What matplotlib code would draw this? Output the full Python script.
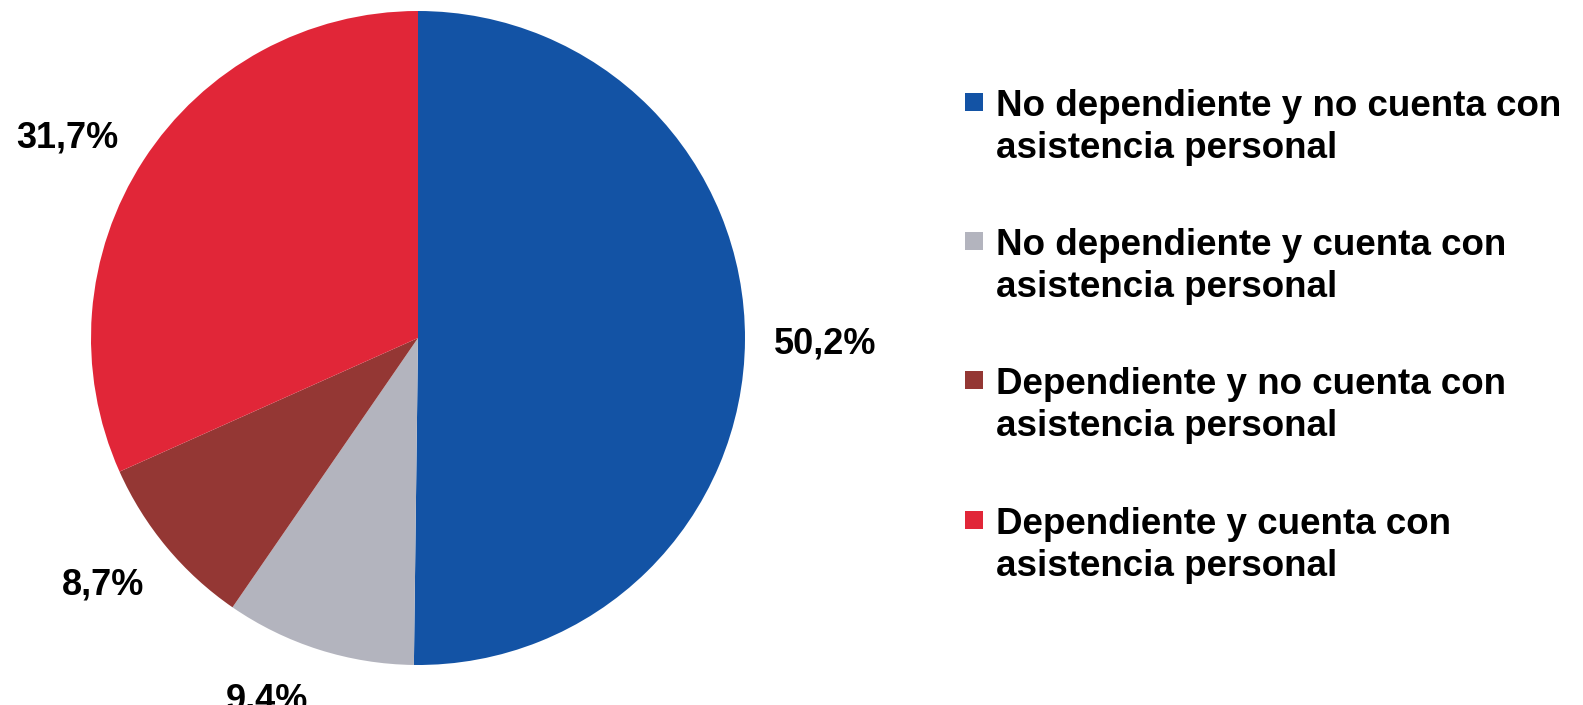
import numpy as np
import matplotlib
matplotlib.use("Agg")
import matplotlib.pyplot as plt
from matplotlib.patches import Rectangle

categories = [
    "No dependiente y no cuenta con\nasistencia personal",
    "No dependiente y cuenta con\nasistencia personal",
    "Dependiente y no cuenta con\nasistencia personal",
    "Dependiente y cuenta con\nasistencia personal",
]
values = [50.2, 9.4, 8.7, 31.7]
value_labels = ["50,2%", "9,4%", "8,7%", "31,7%"]
colors = ["#1353A5", "#B3B4BE", "#943734", "#E12638"]

W, H = 1583, 705
plt.rcParams['font.family'] = ['Liberation Sans', 'DejaVu Sans']
fig = plt.figure(figsize=(W / 100, H / 100), dpi=100)

cx, cy, r = 418, 338, 327
ax = fig.add_axes([(cx - r) / W, 1 - (cy + r) / H, 2 * r / W, 2 * r / H])
wedges, _ = ax.pie(values, colors=colors, startangle=90, counterclock=False,
                   radius=1, wedgeprops=dict(edgecolor='none', linewidth=0))
ax.set_xlim(-1, 1)
ax.set_ylim(-1, 1)
ax.set_aspect('equal')
ax.axis('off')

# label placement (radial distance, angular shift in degrees)
label_dist = [1.245, 1.20, 1.2235, 1.235]
angle_shift = [-0.5, -5, -1.74, 3.3]
for w, lab, d, s in zip(wedges, value_labels, label_dist, angle_shift):
    mid = np.deg2rad((w.theta1 + w.theta2) / 2 + s)
    ax.text(d * np.cos(mid), d * np.sin(mid), lab, ha='center', va='center',
            fontsize=26, fontweight='bold', color='black', clip_on=False)

# legend drawn manually in pixel coordinates
x_box, x_txt = 965, 996
fs = 26.5
baselines = [117, 256, 395, 535]
for lab, col, b in zip(categories, colors, baselines):
    fig.patches.append(Rectangle((x_box / W, 1 - 111 / H - (b - 117) / H), 18 / W, 18 / H,
                                 transform=fig.transFigure, facecolor=col,
                                 edgecolor='none'))
    top = b - 0.75 * fs * 100 / 72
    fig.text(x_txt / W, 1 - top / H, lab, ha='left', va='top', fontsize=fs,
             fontweight='bold', color='black', linespacing=1.25)

fig.savefig("out.png", dpi=100, facecolor='white')
